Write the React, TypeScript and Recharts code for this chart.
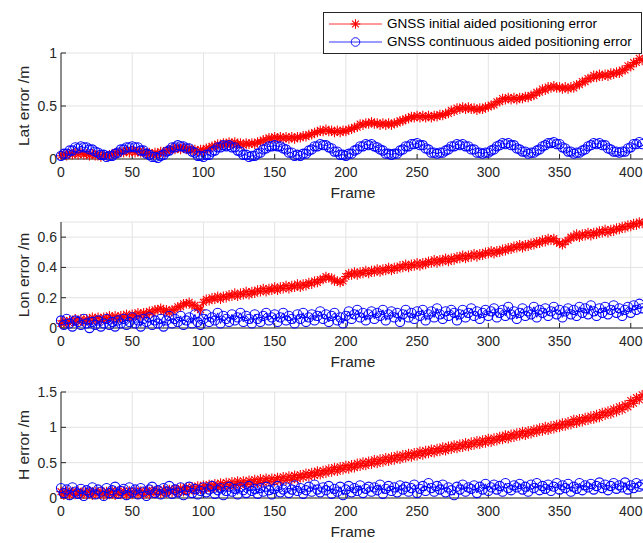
import { LineChart, Line, XAxis, YAxis, CartesianGrid } from 'recharts'

const frames = [
  0, 2, 4, 6, 8, 10, 12, 14, 16, 18,
  20, 22, 24, 26, 28, 30, 32, 34, 36, 38,
  40, 42, 44, 46, 48, 50, 52, 54, 56, 58,
  60, 62, 64, 66, 68, 70, 72, 74, 76, 78,
  80, 82, 84, 86, 88, 90, 92, 94, 96, 98,
  100, 102, 104, 106, 108, 110, 112, 114, 116, 118,
  120, 122, 124, 126, 128, 130, 132, 134, 136, 138,
  140, 142, 144, 146, 148, 150, 152, 154, 156, 158,
  160, 162, 164, 166, 168, 170, 172, 174, 176, 178,
  180, 182, 184, 186, 188, 190, 192, 194, 196, 198,
  200, 202, 204, 206, 208, 210, 212, 214, 216, 218,
  220, 222, 224, 226, 228, 230, 232, 234, 236, 238,
  240, 242, 244, 246, 248, 250, 252, 254, 256, 258,
  260, 262, 264, 266, 268, 270, 272, 274, 276, 278,
  280, 282, 284, 286, 288, 290, 292, 294, 296, 298,
  300, 302, 304, 306, 308, 310, 312, 314, 316, 318,
  320, 322, 324, 326, 328, 330, 332, 334, 336, 338,
  340, 342, 344, 346, 348, 350, 352, 354, 356, 358,
  360, 362, 364, 366, 368, 370, 372, 374, 376, 378,
  380, 382, 384, 386, 388, 390, 392, 394, 396, 398,
  400, 402, 404, 406, 408,
]

// Lat error /m
const latRed = [
  0.03, 0.05, 0.03, 0.05, 0.04, 0.06, 0.04, 0.06, 0.04, 0.05,
  0.03, 0.05, 0.03, 0.04, 0.02, 0.04, 0.03, 0.04, 0.04, 0.06,
  0.05, 0.07, 0.06, 0.08, 0.06, 0.08, 0.06, 0.07, 0.06, 0.07,
  0.05, 0.06, 0.04, 0.06, 0.05, 0.07, 0.06, 0.08, 0.08, 0.10,
  0.09, 0.11, 0.09, 0.11, 0.09, 0.10, 0.08, 0.09, 0.07, 0.09,
  0.08, 0.10, 0.10, 0.12, 0.12, 0.14, 0.13, 0.15, 0.14, 0.16,
  0.14, 0.16, 0.14, 0.15, 0.13, 0.15, 0.14, 0.15, 0.14, 0.16,
  0.16, 0.18, 0.18, 0.20, 0.19, 0.21, 0.19, 0.21, 0.19, 0.21,
  0.19, 0.21, 0.19, 0.21, 0.20, 0.22, 0.21, 0.23, 0.23, 0.25,
  0.25, 0.27, 0.26, 0.28, 0.26, 0.27, 0.25, 0.27, 0.25, 0.27,
  0.26, 0.28, 0.28, 0.30, 0.30, 0.33, 0.32, 0.34, 0.33, 0.35,
  0.33, 0.34, 0.32, 0.34, 0.32, 0.34, 0.32, 0.34, 0.34, 0.36,
  0.36, 0.38, 0.38, 0.40, 0.39, 0.41, 0.39, 0.41, 0.39, 0.41,
  0.39, 0.41, 0.40, 0.42, 0.41, 0.43, 0.43, 0.46, 0.45, 0.48,
  0.47, 0.49, 0.47, 0.49, 0.47, 0.48, 0.46, 0.48, 0.47, 0.49,
  0.49, 0.51, 0.51, 0.54, 0.54, 0.57, 0.56, 0.58, 0.56, 0.58,
  0.56, 0.58, 0.57, 0.59, 0.58, 0.60, 0.60, 0.63, 0.63, 0.66,
  0.65, 0.68, 0.67, 0.69, 0.67, 0.68, 0.66, 0.68, 0.66, 0.68,
  0.67, 0.70, 0.70, 0.73, 0.73, 0.76, 0.76, 0.79, 0.77, 0.80,
  0.78, 0.80, 0.78, 0.81, 0.80, 0.82, 0.81, 0.84, 0.84, 0.88,
  0.87, 0.91, 0.91, 0.95, 0.93,
]
const latBlue = [
  0.03, 0.05, 0.05, 0.08, 0.08, 0.11, 0.10, 0.12, 0.11, 0.11,
  0.09, 0.09, 0.07, 0.06, 0.04, 0.04, 0.02, 0.03, 0.03, 0.05,
  0.06, 0.09, 0.09, 0.11, 0.11, 0.12, 0.11, 0.11, 0.08, 0.08,
  0.05, 0.04, 0.02, 0.02, 0.01, 0.03, 0.04, 0.07, 0.08, 0.11,
  0.11, 0.13, 0.12, 0.12, 0.10, 0.10, 0.07, 0.06, 0.03, 0.03,
  0.02, 0.04, 0.04, 0.07, 0.08, 0.11, 0.11, 0.13, 0.12, 0.13,
  0.11, 0.11, 0.08, 0.07, 0.04, 0.04, 0.02, 0.03, 0.03, 0.05,
  0.06, 0.09, 0.10, 0.12, 0.12, 0.13, 0.12, 0.12, 0.10, 0.09,
  0.06, 0.06, 0.03, 0.04, 0.03, 0.05, 0.05, 0.08, 0.09, 0.12,
  0.12, 0.14, 0.13, 0.13, 0.11, 0.10, 0.07, 0.07, 0.04, 0.04,
  0.03, 0.05, 0.05, 0.08, 0.09, 0.12, 0.12, 0.14, 0.13, 0.14,
  0.12, 0.11, 0.09, 0.08, 0.05, 0.05, 0.04, 0.05, 0.05, 0.08,
  0.09, 0.12, 0.12, 0.14, 0.14, 0.15, 0.13, 0.13, 0.10, 0.09,
  0.06, 0.06, 0.05, 0.06, 0.06, 0.08, 0.09, 0.12, 0.12, 0.14,
  0.13, 0.14, 0.12, 0.12, 0.09, 0.09, 0.06, 0.06, 0.05, 0.06,
  0.06, 0.08, 0.09, 0.12, 0.13, 0.15, 0.14, 0.15, 0.13, 0.13,
  0.10, 0.09, 0.07, 0.07, 0.05, 0.06, 0.06, 0.08, 0.09, 0.12,
  0.13, 0.15, 0.15, 0.16, 0.14, 0.14, 0.11, 0.10, 0.07, 0.07,
  0.05, 0.06, 0.06, 0.08, 0.09, 0.12, 0.13, 0.15, 0.14, 0.15,
  0.13, 0.13, 0.10, 0.09, 0.07, 0.07, 0.06, 0.07, 0.07, 0.10,
  0.11, 0.14, 0.14, 0.16, 0.14,
]

// Lon error /m
const lonRed = [
  0.03, 0.05, 0.03, 0.05, 0.04, 0.06, 0.04, 0.06, 0.04, 0.06,
  0.05, 0.07, 0.05, 0.07, 0.05, 0.07, 0.06, 0.08, 0.06, 0.08,
  0.06, 0.08, 0.07, 0.09, 0.07, 0.09, 0.08, 0.10, 0.08, 0.10,
  0.09, 0.11, 0.10, 0.12, 0.12, 0.13, 0.11, 0.12, 0.10, 0.12,
  0.12, 0.14, 0.14, 0.16, 0.16, 0.17, 0.15, 0.15, 0.13, 0.12,
  0.17, 0.19, 0.18, 0.20, 0.19, 0.21, 0.19, 0.21, 0.20, 0.22,
  0.21, 0.23, 0.21, 0.23, 0.22, 0.24, 0.22, 0.24, 0.23, 0.25,
  0.24, 0.26, 0.24, 0.26, 0.25, 0.27, 0.25, 0.27, 0.26, 0.28,
  0.26, 0.28, 0.27, 0.29, 0.27, 0.29, 0.28, 0.30, 0.29, 0.31,
  0.30, 0.32, 0.32, 0.34, 0.33, 0.33, 0.31, 0.31, 0.30, 0.31,
  0.34, 0.36, 0.35, 0.37, 0.35, 0.37, 0.36, 0.38, 0.36, 0.38,
  0.37, 0.39, 0.37, 0.39, 0.38, 0.40, 0.38, 0.40, 0.39, 0.41,
  0.40, 0.42, 0.40, 0.42, 0.41, 0.43, 0.41, 0.43, 0.42, 0.44,
  0.43, 0.45, 0.43, 0.45, 0.44, 0.46, 0.44, 0.46, 0.45, 0.47,
  0.46, 0.48, 0.46, 0.48, 0.47, 0.49, 0.47, 0.49, 0.48, 0.50,
  0.49, 0.51, 0.49, 0.51, 0.50, 0.52, 0.51, 0.53, 0.52, 0.54,
  0.53, 0.55, 0.53, 0.55, 0.54, 0.56, 0.55, 0.57, 0.56, 0.58,
  0.57, 0.59, 0.58, 0.59, 0.57, 0.56, 0.55, 0.57, 0.58, 0.60,
  0.60, 0.62, 0.60, 0.62, 0.61, 0.63, 0.61, 0.63, 0.62, 0.64,
  0.63, 0.65, 0.63, 0.65, 0.64, 0.66, 0.65, 0.67, 0.66, 0.68,
  0.67, 0.69, 0.68, 0.70, 0.69,
]
const lonBlue = [
  0.05, 0.02, 0.06, 0.03, 0.01, 0.05, 0.04, 0.02, 0.06, 0.03,
  0.00, 0.04, 0.02, 0.05, 0.01, 0.03, 0.06, 0.02, 0.04, 0.01,
  0.05, 0.03, 0.06, 0.02, 0.04, 0.07, 0.03, 0.05, 0.01, 0.06,
  0.04, 0.07, 0.02, 0.05, 0.03, 0.06, 0.01, 0.05, 0.08, 0.03,
  0.06, 0.04, 0.08, 0.02, 0.05, 0.07, 0.03, 0.09, 0.04, 0.02,
  0.06, 0.09, 0.04, 0.07, 0.05, 0.10, 0.03, 0.08, 0.06, 0.04,
  0.09, 0.05, 0.07, 0.10, 0.04, 0.08, 0.06, 0.03, 0.09, 0.06,
  0.04, 0.08, 0.10, 0.05, 0.07, 0.09, 0.04, 0.07, 0.10, 0.05,
  0.08, 0.06, 0.03, 0.09, 0.06, 0.10, 0.04, 0.07, 0.09, 0.05,
  0.08, 0.11, 0.06, 0.09, 0.04, 0.08, 0.10, 0.05, 0.07, 0.03,
  0.08, 0.11, 0.06, 0.09, 0.12, 0.07, 0.10, 0.05, 0.09, 0.11,
  0.06, 0.10, 0.08, 0.12, 0.05, 0.09, 0.11, 0.07, 0.10, 0.04,
  0.09, 0.12, 0.07, 0.10, 0.06, 0.11, 0.08, 0.12, 0.05, 0.09,
  0.11, 0.07, 0.13, 0.09, 0.06, 0.11, 0.08, 0.12, 0.10, 0.05,
  0.09, 0.12, 0.07, 0.10, 0.13, 0.08, 0.11, 0.06, 0.10, 0.12,
  0.08, 0.11, 0.13, 0.07, 0.10, 0.12, 0.08, 0.14, 0.09, 0.11,
  0.06, 0.10, 0.13, 0.08, 0.11, 0.09, 0.14, 0.07, 0.12, 0.10,
  0.13, 0.08, 0.11, 0.14, 0.09, 0.12, 0.07, 0.11, 0.13, 0.09,
  0.12, 0.08, 0.14, 0.10, 0.13, 0.09, 0.15, 0.11, 0.08, 0.13,
  0.10, 0.14, 0.09, 0.12, 0.15, 0.10, 0.13, 0.08, 0.12, 0.14,
  0.10, 0.15, 0.12, 0.16, 0.13,
]

// H error /m
const hRed = [
  0.09, 0.04, 0.10, 0.04, 0.09, 0.05, 0.10, 0.04, 0.09, 0.05,
  0.10, 0.04, 0.09, 0.05, 0.10, 0.04, 0.09, 0.05, 0.10, 0.04,
  0.10, 0.05, 0.10, 0.04, 0.10, 0.05, 0.10, 0.05, 0.10, 0.05,
  0.10, 0.05, 0.11, 0.06, 0.11, 0.06, 0.12, 0.07, 0.12, 0.08,
  0.13, 0.08, 0.14, 0.09, 0.15, 0.10, 0.16, 0.11, 0.17, 0.12,
  0.18, 0.13, 0.19, 0.14, 0.20, 0.15, 0.21, 0.16, 0.22, 0.17,
  0.23, 0.18, 0.24, 0.19, 0.24, 0.19, 0.25, 0.20, 0.26, 0.21,
  0.27, 0.22, 0.28, 0.23, 0.28, 0.23, 0.29, 0.24, 0.30, 0.25,
  0.31, 0.26, 0.32, 0.27, 0.33, 0.29, 0.35, 0.30, 0.36, 0.32,
  0.38, 0.33, 0.39, 0.35, 0.41, 0.37, 0.43, 0.38, 0.44, 0.40,
  0.46, 0.41, 0.47, 0.43, 0.49, 0.45, 0.51, 0.46, 0.52, 0.48,
  0.54, 0.49, 0.55, 0.51, 0.57, 0.52, 0.58, 0.54, 0.60, 0.55,
  0.61, 0.57, 0.63, 0.58, 0.64, 0.60, 0.66, 0.61, 0.67, 0.63,
  0.69, 0.64, 0.70, 0.66, 0.72, 0.67, 0.73, 0.69, 0.75, 0.70,
  0.76, 0.72, 0.78, 0.73, 0.79, 0.75, 0.81, 0.76, 0.82, 0.78,
  0.84, 0.79, 0.85, 0.81, 0.87, 0.83, 0.89, 0.84, 0.90, 0.86,
  0.92, 0.88, 0.94, 0.89, 0.95, 0.91, 0.97, 0.93, 0.99, 0.95,
  1.01, 0.96, 1.02, 0.98, 1.04, 1.00, 1.06, 1.02, 1.08, 1.04,
  1.11, 1.06, 1.12, 1.08, 1.14, 1.10, 1.16, 1.12, 1.18, 1.14,
  1.21, 1.17, 1.23, 1.19, 1.26, 1.22, 1.29, 1.25, 1.32, 1.29,
  1.38, 1.34, 1.42, 1.39, 1.46,
]
const hBlue = [
  0.14, 0.07, 0.12, 0.04, 0.15, 0.09, 0.06, 0.13, 0.03, 0.11,
  0.08, 0.15, 0.05, 0.12, 0.09, 0.03, 0.14, 0.07, 0.11, 0.16,
  0.06, 0.10, 0.13, 0.04, 0.15, 0.08, 0.12, 0.05, 0.14, 0.09,
  0.03, 0.12, 0.16, 0.07, 0.11, 0.05, 0.14, 0.09, 0.17, 0.06,
  0.12, 0.08, 0.15, 0.04, 0.11, 0.16, 0.07, 0.13, 0.05, 0.10,
  0.15, 0.08, 0.12, 0.17, 0.06, 0.11, 0.14, 0.04, 0.10, 0.16,
  0.09, 0.13, 0.05, 0.15, 0.11, 0.07, 0.17, 0.10, 0.13, 0.06,
  0.14, 0.09, 0.16, 0.11, 0.05, 0.13, 0.17, 0.08, 0.12, 0.15,
  0.07, 0.12, 0.18, 0.10, 0.14, 0.06, 0.11, 0.16, 0.09, 0.19,
  0.12, 0.08, 0.15, 0.11, 0.17, 0.06, 0.13, 0.09, 0.16, 0.04,
  0.12, 0.17, 0.08, 0.14, 0.10, 0.18, 0.07, 0.13, 0.16, 0.09,
  0.15, 0.11, 0.19, 0.06, 0.13, 0.17, 0.10, 0.15, 0.08, 0.18,
  0.12, 0.16, 0.09, 0.14, 0.19, 0.07, 0.13, 0.17, 0.10, 0.21,
  0.14, 0.09, 0.17, 0.12, 0.19, 0.08, 0.15, 0.11, 0.04, 0.16,
  0.12, 0.19, 0.09, 0.15, 0.13, 0.18, 0.07, 0.16, 0.12, 0.20,
  0.10, 0.15, 0.19, 0.12, 0.17, 0.09, 0.21, 0.14, 0.11, 0.18,
  0.15, 0.20, 0.12, 0.16, 0.09, 0.19, 0.14, 0.21, 0.11, 0.17,
  0.13, 0.19, 0.10, 0.16, 0.21, 0.12, 0.18, 0.14, 0.20, 0.09,
  0.16, 0.13, 0.21, 0.11, 0.18, 0.15, 0.20, 0.12, 0.17, 0.22,
  0.14, 0.19, 0.11, 0.17, 0.21, 0.13, 0.18, 0.15, 0.22, 0.12,
  0.18, 0.14, 0.21, 0.16, 0.19,
]

const xTicks = [0, 50, 100, 150, 200, 250, 300, 350, 400]
const legendLabels = ['GNSS initial aided positioning error', 'GNSS continuous aided positioning error']

const AXIS = '#262626'
const RED = '#ff0000'
const BLUE = '#0000ff'

const Star = (props: any) => {
  const { cx, cy, index } = props
  if (cx == null || cy == null) return <g key={`s${index}`} />
  const r = 4.8
  const d = 3.4
  return (
    <g key={`s${index}`} stroke={RED} strokeWidth={1.1}>
      <line x1={cx - r} y1={cy} x2={cx + r} y2={cy} />
      <line x1={cx} y1={cy - r} x2={cx} y2={cy + r} />
      <line x1={cx - d} y1={cy - d} x2={cx + d} y2={cy + d} />
      <line x1={cx - d} y1={cy + d} x2={cx + d} y2={cy - d} />
    </g>
  )
}

interface PanelProps {
  top: number
  red: number[]
  blue: number[]
  yDomain: [number, number]
  yTicks: number[]
  yLabel: string
}

function Panel({ top, red, blue, yDomain, yTicks, yLabel }: PanelProps) {
  const data = frames.map((f, i) => ({ frame: f, red: red[i], blue: blue[i] }))
  return (
    <div style={{ position: 'absolute', left: 0, top: top - 52 }}>
      <LineChart width={700} height={200} data={data} margin={{ top: 52, right: 55, bottom: 0, left: 0 }}>
        <CartesianGrid stroke="#e3e3e3" />
        <XAxis
          dataKey="frame"
          type="number"
          domain={[0, 410]}
          ticks={xTicks}
          height={42}
          stroke={AXIS}
          tickSize={-5}
          tickMargin={13}
          tick={{ fontSize: 14, fill: AXIS }}
          label={(p: any) => {
            const vb = p.viewBox
            return (
              <text x={vb.x + vb.width / 2} y={vb.y + vb.height - 3} textAnchor="middle" fontSize={15.5} fill={AXIS}>
                Frame
              </text>
            )
          }}
        />
        <XAxis xAxisId="t" orientation="top" type="number" domain={[0, 410]} ticks={xTicks} height={0} stroke={AXIS} tickSize={-5} tick={false} />
        <YAxis
          type="number"
          domain={yDomain}
          ticks={yTicks}
          width={61}
          stroke={AXIS}
          tickSize={-5}
          tickMargin={9}
          tick={{ fontSize: 14, fill: AXIS }}
          label={(p: any) => {
            const vb = p.viewBox
            const cx = 24
            const cy = vb.y + vb.height / 2
            return (
              <text x={cx} y={cy} dy="0.35em" transform={`rotate(-90 ${cx} ${cy})`} textAnchor="middle" fontSize={15.5} fill={AXIS}>
                {yLabel}
              </text>
            )
          }}
        />
        <YAxis yAxisId="r" orientation="right" type="number" domain={yDomain} ticks={yTicks} width={0} stroke={AXIS} tickSize={-5} tick={false} />
        <Line dataKey="red" stroke={RED} strokeWidth={1} dot={Star} isAnimationActive={false} />
        <Line dataKey="blue" stroke={BLUE} strokeWidth={1} dot={{ r: 4.6, stroke: BLUE, strokeWidth: 1.1, fill: 'none' }} isAnimationActive={false} />
      </LineChart>
    </div>
  )
}

export default function App() {
  return (
    <div
      style={{
        position: 'absolute',
        left: 0,
        top: 0,
        width: 643,
        height: 543,
        overflow: 'hidden',
        background: '#fff',
        fontFamily: '"Liberation Sans", Arial, sans-serif',
      }}
    >
      <Panel top={53} red={latRed} blue={latBlue} yDomain={[0, 1]} yTicks={[0, 0.5, 1]} yLabel="Lat error /m" />
      <Panel top={222} red={lonRed} blue={lonBlue} yDomain={[0, 0.7]} yTicks={[0, 0.2, 0.4, 0.6]} yLabel="Lon error /m" />
      <Panel top={392} red={hRed} blue={hBlue} yDomain={[0, 1.5]} yTicks={[0, 0.5, 1, 1.5]} yLabel="H error /m" />
      <div
        style={{
          position: 'absolute',
          left: 323,
          top: 12,
          width: 319,
          height: 42,
          boxSizing: 'border-box',
          border: `1px solid ${AXIS}`,
          background: '#fff',
          fontSize: 13.5,
          color: '#000',
        }}
      >
        <svg width={64} height={40} style={{ position: 'absolute', left: 0, top: 0 }}>
          <line x1={5} y1={11} x2={58} y2={11} stroke={RED} strokeWidth={0.8} />
          <Star cx={31.5} cy={11} index={0} />
          <line x1={5} y1={29} x2={58} y2={29} stroke={BLUE} strokeWidth={0.8} />
          <circle cx={31.5} cy={29} r={4.3} stroke={BLUE} strokeWidth={0.9} fill="none" />
        </svg>
        {legendLabels.map((t, i) => (
          <span key={t} style={{ position: 'absolute', left: 63, top: 3 + i * 18, lineHeight: '16px', whiteSpace: 'nowrap' }}>
            {t}
          </span>
        ))}
      </div>
    </div>
  )
}
